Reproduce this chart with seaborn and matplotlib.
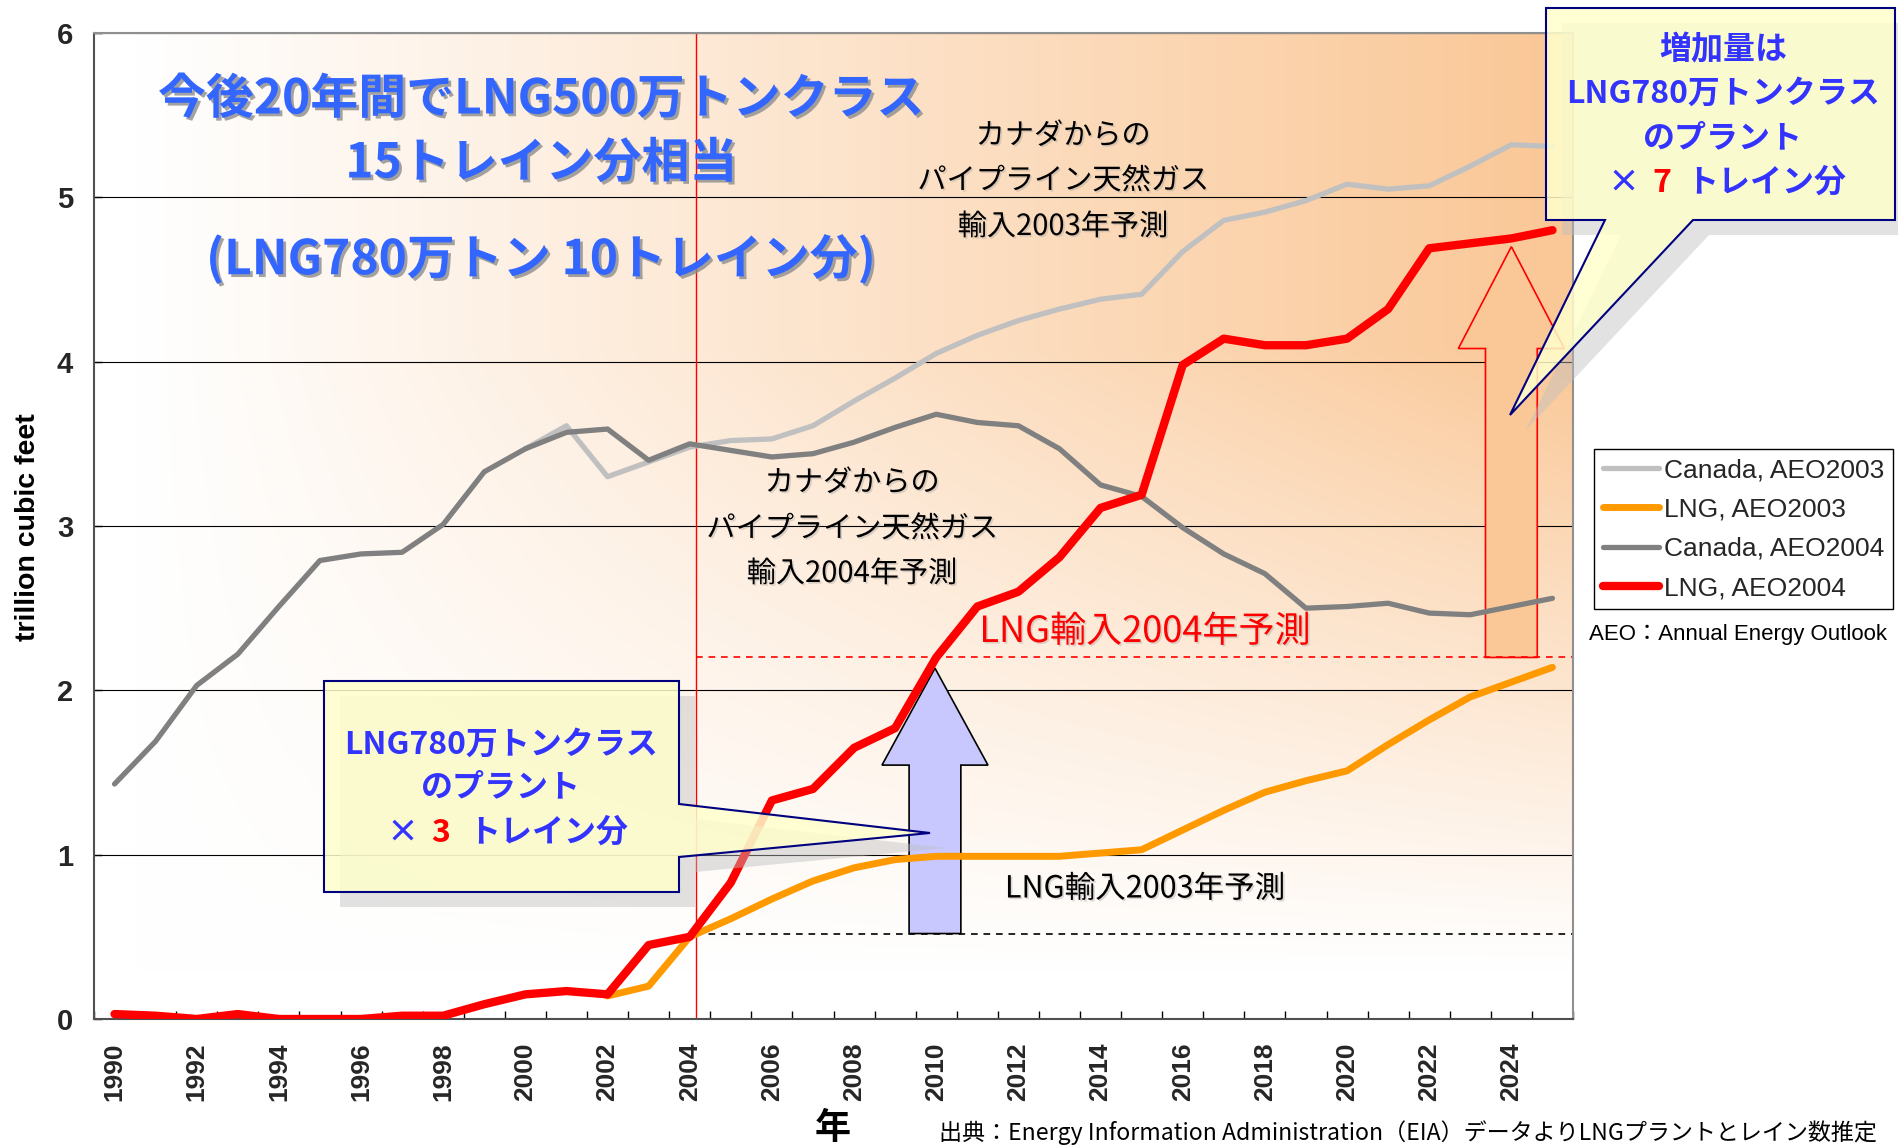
import numpy as np
import matplotlib
matplotlib.use("Agg")
import matplotlib.pyplot as plt
import matplotlib.patheffects as pe
from matplotlib.patches import Polygon
from matplotlib.lines import Line2D
import seaborn as sns

# US natural gas imports, trillion cubic feet (EIA AEO2003 / AEO2004)
years = list(range(1990, 2026))
canada_aeo2004 = [1.43, 1.69, 2.03, 2.22, 2.51, 2.79, 2.83, 2.84, 3.01, 3.33,
                  3.47, 3.57, 3.59, 3.40, 3.50, 3.46, 3.42, 3.44, 3.51, 3.60,
                  3.68, 3.63, 3.61, 3.47, 3.25, 3.18, 2.99, 2.83, 2.71, 2.50,
                  2.51, 2.53, 2.47, 2.46, 2.51, 2.56]
lng_aeo2004 = [0.03, 0.02, 0.00, 0.03, 0.00, 0.00, 0.00, 0.02, 0.02, 0.09,
               0.15, 0.17, 0.15, 0.45, 0.50, 0.83, 1.33, 1.40, 1.65, 1.77,
               2.20, 2.51, 2.60, 2.81, 3.11, 3.19, 3.98, 4.14, 4.10, 4.10,
               4.14, 4.32, 4.69, 4.72, 4.75, 4.80]
canada_years_2003 = list(range(2000, 2026))
canada_aeo2003 = [3.47, 3.61, 3.30, 3.39, 3.48, 3.52, 3.53, 3.61, 3.76, 3.90,
                  4.05, 4.16, 4.25, 4.32, 4.38, 4.41, 4.67, 4.86, 4.91, 4.98,
                  5.08, 5.05, 5.07, 5.19, 5.32, 5.31]
lng_years_2003 = list(range(2002, 2026))
lng_aeo2003 = [0.14, 0.20, 0.50, 0.61, 0.73, 0.84, 0.92, 0.97, 0.99, 0.99,
               0.99, 0.99, 1.01, 1.03, 1.15, 1.27, 1.38, 1.45, 1.51, 1.67,
               1.82, 1.96, 2.05, 2.14]

series_labels = ["Canada, AEO2003", "LNG, AEO2003", "Canada, AEO2004", "LNG, AEO2004"]
series_colors = ["#C0C0C0", "#FF9900", "#808080", "#FF0000"]
series_widths = [3.8, 5.0, 3.8, 6.0]

# guide levels (dashed lines / arrows)
level_2004 = 0.52
level_2010 = 2.20
level_2024 = 4.70
forecast_start = 2004.15

W, H = 1899, 1147
sns.set_theme(style="white")
plt.rcParams["font.family"] = ["Noto Sans CJK JP", "DejaVu Sans"]
latin = ["Liberation Sans", "Noto Sans CJK JP", "DejaVu Sans"]

fig = plt.figure(figsize=(W / 100, H / 100), dpi=100)
ax = fig.add_axes([94 / W, 1 - 1019 / H, (1573 - 94) / W, (1019 - 33) / H])

# orange gradient background
gx, gy = np.meshgrid(np.linspace(0, 1, 400), np.linspace(0, 1, 300))
alpha = np.clip((gx - 0.03) / 0.97, 0, 1) * np.clip((gy - 0.05) / 0.63, 0, 1)
orange = np.array([250, 199, 150]) / 255
img = 1 - alpha[..., None] * (1 - orange)
ax.imshow(img, extent=[1989.5, 2025.5, 0, 6], origin="lower", aspect="auto",
          zorder=0, interpolation="bilinear")

# series
plot_data = [(canada_years_2003, canada_aeo2003), (lng_years_2003, lng_aeo2003),
             (years, canada_aeo2004), (years, lng_aeo2004)]
for (xs, ys), c, lw in zip(plot_data, series_colors, series_widths):
    sns.lineplot(x=xs, y=ys, color=c, lw=lw, ax=ax, zorder=3,
                 solid_joinstyle="round", solid_capstyle="round")

# guides
ax.axvline(forecast_start, color="#FF0000", lw=1.0, zorder=2.5)
ax.hlines(level_2010, forecast_start, 2025.5, colors="#FF0000",
          linestyles=(0, (4, 3.5)), lw=1.2, zorder=2.5)
ax.hlines(level_2004, forecast_start, 2025.5, colors="black",
          linestyles=(0, (4, 3.5)), lw=1.2, zorder=2.5)


def up_arrow(xc, y0, y_base, y_top, shaft=0.63, head=1.29):
    return [(xc - shaft, y0), (xc + shaft, y0), (xc + shaft, y_base),
            (xc + head, y_base), (xc, y_top), (xc - head, y_base),
            (xc - shaft, y_base)]


ax.add_patch(Polygon(up_arrow(2009.97, level_2004, 1.545, 2.135), closed=True,
                     facecolor="#C8C8FF", edgecolor="black", lw=1.2, zorder=2))
ax.add_patch(Polygon(up_arrow(2024.0, level_2010, 4.08, level_2024), closed=True,
                     facecolor="#FAC896", edgecolor="#FF0000", lw=1.2, zorder=2))

# axes styling
ax.set_xlim(1989.5, 2025.5)
ax.set_ylim(0, 6)
ax.set_xticks(range(1990, 2026, 2))
ax.set_xticks(np.arange(1989.5, 2025.6, 1), minor=True)
ax.set_yticks(range(0, 7))
ax.set_axisbelow(True)
ax.yaxis.grid(True, color="black", lw=0.8)
ax.xaxis.grid(False)
ax.tick_params(axis="x", which="major", length=0, pad=17, labelrotation=90)
ax.tick_params(axis="x", which="minor", direction="in", length=6, width=1,
               color="black", bottom=True)
ax.tick_params(axis="y", direction="in", length=6, width=1, color="black",
               left=True, pad=15)
for lab in ax.get_xticklabels() + ax.get_yticklabels():
    lab.set_fontfamily(latin)
    lab.set_fontweight("bold")
for lab in ax.get_xticklabels():
    lab.set_fontsize(19)
for lab in ax.get_yticklabels():
    lab.set_fontsize(21)
for side in ["left", "bottom"]:
    ax.spines[side].set_color("#505050")
    ax.spines[side].set_linewidth(1.5)
for side in ["top", "right"]:
    ax.spines[side].set_color("#909090")
    ax.spines[side].set_linewidth(1.5)


def ftext(x, y, s, **kw):
    kw.setdefault("ha", "center")
    kw.setdefault("va", "center")
    return fig.text(x / W, 1 - y / H, s, **kw)


def fig_poly(pts, **kw):
    return Polygon([(x / W, 1 - y / H) for x, y in pts], closed=True,
                   transform=fig.transFigure, **kw)


# labels
ftext(28, 527, "trillion cubic feet", rotation=90, size=20.5, weight="bold",
      family=latin, color="black")
ftext(833, 1128, "年", size=26, weight="bold", color="black")
ftext(1877, 1133, "出典：Energy Information Administration（EIA）データよりLNGプラントとレイン数推定",
      ha="right", size=16.6, color="black")

# headline
big_shadow = [pe.SimplePatchShadow(offset=(2, -2), shadow_rgbFace="#8C8C8C", alpha=0.8),
              pe.Normal()]
for y, s in [(99, "今後20年間でLNG500万トンクラス"), (163, "15トレイン分相当"),
             (259, "(LNG780万トン 10トレイン分)")]:
    ftext(541, y, s, size=34.5, weight="bold", color="#3366FF",
          path_effects=big_shadow, zorder=6)

# black / red annotations
soft_shadow = [pe.SimplePatchShadow(offset=(1.2, -1.2), shadow_rgbFace="#999999", alpha=0.35),
               pe.Normal()]
for y, s in [(136, "カナダからの"), (181, "パイプライン天然ガス"), (227, "輸入2003年予測")]:
    ftext(1063, y, s, size=21, color="black", path_effects=soft_shadow)
for y, s in [(483, "カナダからの"), (529, "パイプライン天然ガス"), (574, "輸入2004年予測")]:
    ftext(852, y, s, size=21, color="black", path_effects=soft_shadow)
ftext(1145, 632, "LNG輸入2004年予測", size=26, color="#FF0000", path_effects=soft_shadow)
ftext(1145, 889, "LNG輸入2003年予測", size=22, color="black", path_effects=soft_shadow)

# callouts
left_callout = [(324, 681), (679, 681), (679, 804), (930, 833), (679, 857),
                (679, 892), (324, 892)]
right_callout = [(1546, 8), (1895, 8), (1895, 220), (1693, 220), (1510, 415),
                 (1605, 220), (1546, 220)]
for pts in (left_callout, right_callout):
    fig.add_artist(fig_poly([(x + 16, y + 15) for x, y in pts],
                            facecolor=(0.75, 0.75, 0.75, 0.45), edgecolor="none", zorder=4))
    fig.add_artist(fig_poly(pts, facecolor=(1, 1, 0.8, 0.85), edgecolor="#000080",
                            lw=1.5, zorder=5))

blue = "#3333FF"
for y, s in [(50, "増加量は"), (94, "LNG780万トンクラス"), (138, "のプラント")]:
    ftext(1723, y, s, size=23, weight="bold", color=blue, zorder=7)
ftext(1624, 183, "×", size=23, weight="bold", color=blue, zorder=7)
ftext(1662, 183, "7", size=23, weight="bold", color="#FF0000", zorder=7)
ftext(1686, 183, "トレイン分", ha="left", size=23, weight="bold", color=blue, zorder=7)

for y, s in [(745, "LNG780万トンクラス"), (787, "のプラント")]:
    ftext(501, y, s, size=23, weight="bold", color=blue, zorder=7)
ftext(402, 833, "×", size=23, weight="bold", color=blue, zorder=7)
ftext(441, 833, "3", size=23, weight="bold", color="#FF0000", zorder=7)
ftext(468, 833, "トレイン分", ha="left", size=23, weight="bold", color=blue, zorder=7)

# legend
handles = [Line2D([], [], color=c, lw=lw) for c, lw in zip(series_colors, series_widths)]
leg = fig.legend(handles, series_labels, loc="upper left",
                 bbox_to_anchor=(1594 / W, 1 - 449 / H), frameon=True, fancybox=False,
                 edgecolor="black", framealpha=1, prop={"family": latin, "size": 19},
                 handlelength=2.1, handletextpad=0.2, labelspacing=0.58,
                 borderpad=0.35, borderaxespad=0)
leg.get_frame().set_linewidth(1.0)
ftext(1738, 634, "AEO：Annual Energy Outlook", size=16, family=latin, color="black")

fig.savefig("out.png", dpi=100)
